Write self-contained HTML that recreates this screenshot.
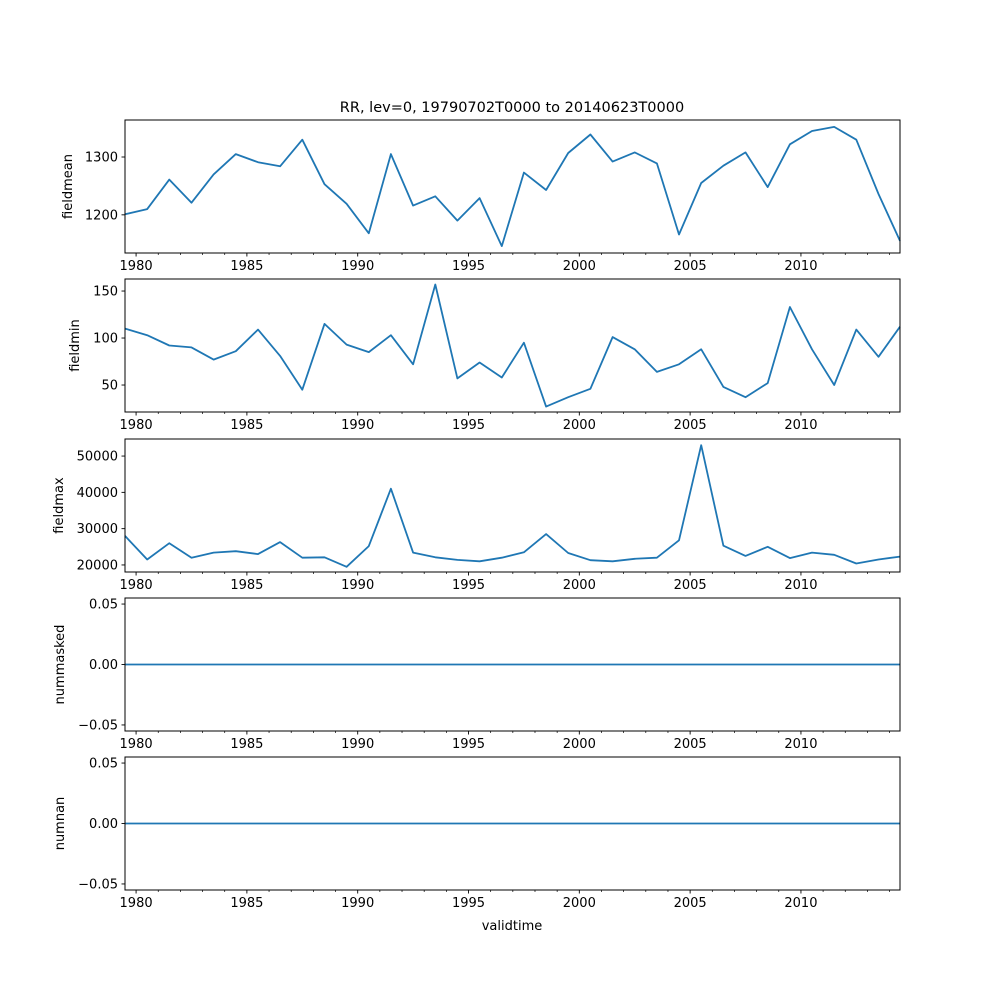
<!DOCTYPE html>
<html><head><meta charset="utf-8"><style>
html,body{margin:0;padding:0;background:#fff;}
svg{display:block;font-family:"DejaVu Sans","Liberation Sans",sans-serif;}
</style></head><body>
<svg id="fig" width="1000" height="1000" xmlns="http://www.w3.org/2000/svg">
<rect width="1000" height="1000" fill="#fff"/>
<text x="512" y="112" text-anchor="middle" font-size="14.5">RR, lev=0, 19790702T0000 to 20140623T0000</text>
<text x="512" y="930" text-anchor="middle" font-size="13">validtime</text>
</svg>
<script>
const years = [1979.5,1980.5,1981.5,1982.5,1983.5,1984.5,1985.5,1986.5,1987.5,1988.5,1989.5,1990.5,1991.5,1992.5,1993.5,1994.5,1995.5,1996.5,1997.5,1998.5,1999.5,2000.5,2001.5,2002.5,2003.5,2004.5,2005.5,2006.5,2007.5,2008.5,2009.5,2010.5,2011.5,2012.5,2013.5,2014.47];
const fieldmean = [1201,1210,1261,1221,1270,1305,1291,1284,1330,1253,1219,1168,1305,1216,1232,1190,1229,1146,1273,1243,1307,1339,1292,1308,1289,1166,1255,1285,1308,1248,1322,1345,1352,1330,1236,1155];
const fieldmin = [110,103,92,90,77,86,109,81,45,115,93,85,103,72,157,57,74,58,95,27,37,46,101,88,64,72,88,48,37,52,133,88,50,109,80,112];
const fieldmax = [28000,21500,26000,22000,23400,23800,23000,26300,22000,22100,19500,25200,41000,23400,22100,21400,21000,22000,23500,28500,23300,21300,21000,21700,22000,26800,53000,25300,22500,25000,21900,23400,22800,20400,21500,22300];
const nummasked = [0,0,0,0,0,0,0,0,0,0,0,0,0,0,0,0,0,0,0,0,0,0,0,0,0,0,0,0,0,0,0,0,0,0,0,0];
const numnan = [0,0,0,0,0,0,0,0,0,0,0,0,0,0,0,0,0,0,0,0,0,0,0,0,0,0,0,0,0,0,0,0,0,0,0,0];
const xTickLabels = [1980,1985,1990,1995,2000,2005,2010];
const panelNames = ["fieldmean","fieldmin","fieldmax","nummasked","numnan"];
const panelSeries = [fieldmean, fieldmin, fieldmax, nummasked, numnan];
const panelTicks = [[1200,1300],[50,100,150],[20000,30000,40000,50000],[-0.05,0,0.05],[-0.05,0,0.05]];
const panelTickLabels = [["1200","1300"],["50","100","150"],["20000","30000","40000","50000"],["−0.05","0.00","0.05"],["−0.05","0.00","0.05"]];
const panelYlim = [[1134,1364],[21.3,162.8],[18060,54700],[-0.055,0.055],[-0.055,0.055]];

const NS = "http://www.w3.org/2000/svg";
const svg = document.getElementById('fig');
const L = 125, R = 900, X0 = 1979.5, X1 = 2014.47;
const tops = [120,279,439,598,757], H = 133;
function xs(t){ return L + (t - X0) / (X1 - X0) * (R - L); }
function mk(tag, attrs, parent){ const e = document.createElementNS(NS, tag); for (const k in attrs) e.setAttribute(k, attrs[k]); (parent||svg).appendChild(e); return e; }

panelNames.forEach((name, p) => {
  const top = tops[p], bot = top + H;
  const [y0, y1] = panelYlim[p];
  const ys = v => bot - (v - y0) / (y1 - y0) * H;
  const g = mk('g', {});
  
  
  const pts = panelSeries[p].map((v, i) => xs(years[i]).toFixed(1) + ',' + ys(v).toFixed(1)).join(' ');
  const line = mk('polyline', {points: pts, fill: 'none', stroke: '#1f77b4', 'stroke-width': 1.8, 'stroke-linejoin': 'round'}, g);
  
  
  const fr = mk('rect', {x: L, y: top, width: R - L, height: H, fill: 'none', stroke: '#000', 'stroke-width': 1}, g);
  
  
  panelTicks[p].forEach((v, k) => {
    const y = ys(v);
    mk('line', {x1: L - 3.5, x2: L, y1: y, y2: y, stroke: '#000', 'stroke-width': 0.9}, g);
    const t = mk('text', {x: L - 7, y: y + 4.5, 'text-anchor': 'end', 'font-size': 13}, g);
    t.textContent = panelTickLabels[p][k];
    
    
  });
  for (let yr = 1980; yr <= 2014; yr++) {
    const x = xs(yr);
    const major = yr % 5 === 0;
    mk('line', {x1: x, x2: x, y1: bot, y2: bot + (major ? 3.5 : 2), stroke: '#000', 'stroke-width': major ? 0.9 : 0.7}, g);
  }
  xTickLabels.forEach(yr => {
    const t = mk('text', {x: xs(yr), y: bot + 17, 'text-anchor': 'middle', 'font-size': 13}, g);
    t.textContent = yr;
    
    
  });
  const yt = mk('text', {x: 0, y: 0, 'text-anchor': 'middle', 'font-size': 13, transform: `translate(${p < 2 ? (p===0?72:79) : (p===2?63:64)},${top + H/2}) rotate(-90)`}, g);
  yt.textContent = name;
  
  
});
</script>
</body></html>
